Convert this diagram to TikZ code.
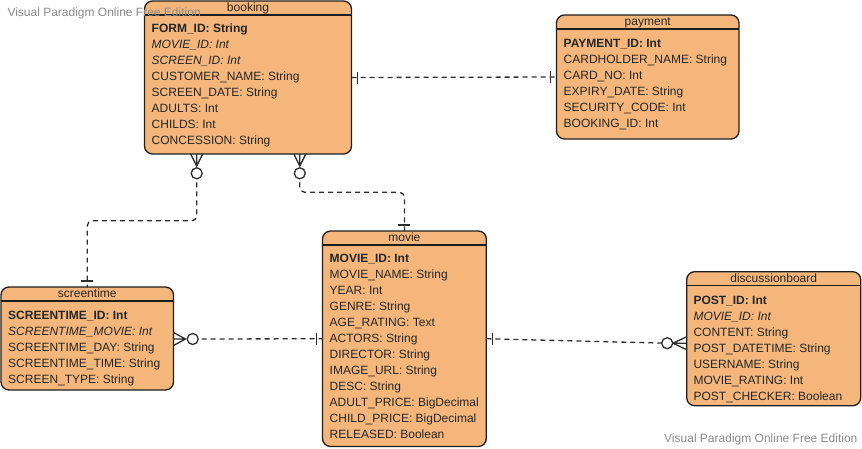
\documentclass[tikz,border=0pt]{standalone}
\usepackage{fontspec}
\setmainfont{Liberation Sans}
\usepackage{xcolor}
\definecolor{entfill}{HTML}{F4B67A}
\definecolor{entedge}{HTML}{1E1E1E}
\definecolor{txtcol}{HTML}{262626}
\definecolor{relcol}{HTML}{2E2E2E}
\definecolor{wmgray}{HTML}{8A8A8A}
\usepackage{tikz}
\newcommand{\pk}[1]{\textbf{#1}}
\newcommand{\fk}[1]{\textit{#1}}

\begin{document}
\begin{tikzpicture}[x=1pt, y=-1pt,
  every node/.style={font=\fontsize{12}{16}\selectfont, text=txtcol, inner sep=0pt},
  entity/.style={draw=entedge, fill=entfill, line width=1.3pt, rounded corners=8pt, anchor=north west, outer sep=0pt},
  hdr/.style={draw=entedge, line width=1.2pt},
  rel/.style={draw=relcol, line width=1.3pt, dash pattern=on 5pt off 4pt, rounded corners=5pt},
  endln/.style={draw=relcol, line width=1.3pt},
  wm/.style={text=wmgray, anchor=base west}]
\useasboundingbox (0,0) rectangle (862,448);

% booking
\node[entity, minimum width=207pt, minimum height=153pt] (booking) at (144.5,1) {};
\draw[hdr] ([yshift=-14pt]booking.north west) -- ([yshift=-14pt]booking.north east);
\node[anchor=base] (booking-t) at ([yshift=-10.5pt]booking.north) {booking};
\foreach \r [count=\i from 0] in {\pk{FORM\_ID: String}, \fk{MOVIE\_ID: Int}, \fk{SCREEN\_ID: Int},
  CUSTOMER\_NAME: String, SCREEN\_DATE: String, ADULTS: Int, CHILDS: Int, CONCESSION: String}
  \node[anchor=base west] (booking-\i) at ([xshift=7pt, yshift=-31pt-\i*16pt]booking.north west) {\r};

% payment
\node[entity, minimum width=182.5pt, minimum height=124pt] (payment) at (556.5,15) {};
\draw[hdr] ([yshift=-14pt]payment.north west) -- ([yshift=-14pt]payment.north east);
\node[anchor=base] (payment-t) at ([yshift=-10.5pt]payment.north) {payment};
\foreach \r [count=\i from 0] in {\pk{PAYMENT\_ID: Int}, CARDHOLDER\_NAME: String, CARD\_NO: Int,
  EXPIRY\_DATE: String, SECURITY\_CODE: Int, BOOKING\_ID: Int}
  \node[anchor=base west] (payment-\i) at ([xshift=7pt, yshift=-32pt-\i*16pt]payment.north west) {\r};

% screentime
\node[entity, minimum width=172.5pt, minimum height=103pt] (screentime) at (1,287) {};
\draw[hdr] ([yshift=-14pt]screentime.north west) -- ([yshift=-14pt]screentime.north east);
\node[anchor=base] (screentime-t) at ([yshift=-10.5pt]screentime.north) {screentime};
\foreach \r [count=\i from 0] in {\pk{SCREENTIME\_ID: Int}, \fk{SCREENTIME\_MOVIE: Int},
  SCREENTIME\_DAY: String, SCREENTIME\_TIME: String, SCREEN\_TYPE: String}
  \node[anchor=base west] (screentime-\i) at ([xshift=7pt, yshift=-32pt-\i*16pt]screentime.north west) {\r};

% movie
\node[entity, minimum width=163.8pt, minimum height=215.5pt] (movie) at (322.5,231) {};
\draw[hdr] ([yshift=-14pt]movie.north west) -- ([yshift=-14pt]movie.north east);
\node[anchor=base] (movie-t) at ([yshift=-10.5pt]movie.north) {movie};
\foreach \r [count=\i from 0] in {\pk{MOVIE\_ID: Int}, MOVIE\_NAME: String, YEAR: Int, GENRE: String,
  AGE\_RATING: Text, ACTORS: String, DIRECTOR: String, IMAGE\_URL: String, DESC: String,
  ADULT\_PRICE: BigDecimal, CHILD\_PRICE: BigDecimal, RELEASED: Boolean}
  \node[anchor=base west] (movie-\i) at ([xshift=7pt, yshift=-31.7pt-\i*16pt]movie.north west) {\r};

% discussionboard
\node[entity, minimum width=174pt, minimum height=134pt] (discussionboard) at (686.7,271.7) {};
\draw[hdr] ([yshift=-14pt]discussionboard.north west) -- ([yshift=-14pt]discussionboard.north east);
\node[anchor=base] (discussionboard-t) at ([yshift=-10.5pt]discussionboard.north) {discussionboard};
\foreach \r [count=\i from 0] in {\pk{POST\_ID: Int}, \fk{MOVIE\_ID: Int}, CONTENT: String,
  POST\_DATETIME: String, USERNAME: String, MOVIE\_RATING: Int, POST\_CHECKER: Boolean}
  \node[anchor=base west] (discussionboard-\i) at ([xshift=6.6pt, yshift=-32.6pt-\i*16pt]discussionboard.north west) {\r};

% booking -- payment
\draw[rel] (booking.east) -- (payment.west);
\draw[endln] ([xshift=6pt, yshift=6pt]booking.east) -- ++(0,12);
\draw[endln] ([xshift=-6pt, yshift=6pt]payment.west) -- ++(0,12);

% booking -- screentime
\coordinate (bk-s1) at ([xshift=52.2pt]booking.south west);
\coordinate (bk-o1) at ([yshift=-19.3pt]bk-s1);
\draw[rel] (bk-o1) -- ++(0,47.5) -| (screentime.north);
\draw[endln] ([xshift=-6pt]bk-s1) -- ++(6,12) -- ++(6,-12) (bk-s1) -- ++(0,12);
\draw[endln, fill=white] (bk-o1) circle[radius=5.5pt];
\draw[endln] ([xshift=-6pt, yshift=6pt]screentime.north) -- ++(12,0);

% booking -- movie
\coordinate (bk-s2) at ([xshift=155.3pt]booking.south west);
\coordinate (bk-o2) at ([yshift=-19.3pt]bk-s2);
\draw[rel] (bk-o2) -- ++(0,19) -| (movie.north);
\draw[endln] ([xshift=-6pt]bk-s2) -- ++(6,12) -- ++(6,-12) (bk-s2) -- ++(0,12);
\draw[endln, fill=white] (bk-o2) circle[radius=5.5pt];
\draw[endln] ([xshift=-6pt, yshift=6pt]movie.north) -- ++(12,0);

% screentime -- movie
\coordinate (st-e) at ([yshift=-0.5pt]screentime.east);
\coordinate (st-o) at ([xshift=19.2pt]st-e);
\draw[rel] (st-o) -- (movie.west);
\draw[endln] ([yshift=6.5pt]st-e) -- ++(12,6.5) -- ++(-12,6.5) (st-e) -- ++(12,0);
\draw[endln, fill=white] (st-o) circle[radius=5.5pt];
\draw[endln] ([xshift=-6pt, yshift=6pt]movie.west) -- ++(0,12);

% movie -- discussionboard
\coordinate (db-w) at ([yshift=-4.5pt]discussionboard.west);
\coordinate (db-o) at ([xshift=-19.5pt]db-w);
\draw[rel] (movie.east) -- (db-o);
\draw[endln] ([yshift=6.5pt]db-w) -- ++(-13.7,6.5) -- ++(13.7,6.5) (db-w) -- ++(-13.7,0);
\draw[endln, fill=white] (db-o) circle[radius=5.5pt];
\draw[endln] ([xshift=6pt, yshift=6pt]movie.east) -- ++(0,12);

% watermarks
\node[wm] (wm-top) at (7.3,16) {Visual Paradigm Online Free Edition};
\node[wm] (wm-bot) at (664,442.7) {Visual Paradigm Online Free Edition};
\end{tikzpicture}
\end{document}
